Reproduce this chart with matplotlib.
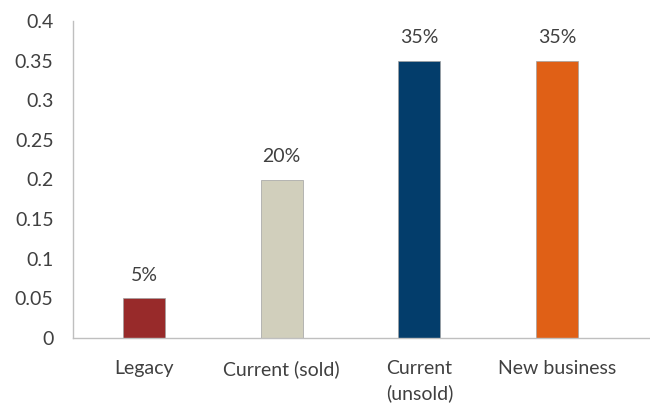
import matplotlib.pyplot as plt

categories = ['Legacy', 'Current (sold)', 'Current\n(unsold)', 'New business']
values = [0.05, 0.20, 0.35, 0.35]
labels = ['5%', '20%', '35%', '35%']
colors = ['#982A2A', '#D1CFBC', '#033D6B', '#E06016']

plt.rcParams['font.family'] = ['Lato', 'DejaVu Sans']
text_color = '#404040'

fig = plt.figure(figsize=(6.5, 4.05), dpi=100)
ax = fig.add_axes([73 / 650, 1 - 338 / 405, 1 - 73 / 650, (338 - 21) / 405])

x = range(len(categories))
bars = ax.bar(x, values, width=0.305, color=colors, edgecolor='#A0A0A0', linewidth=0.5)
for b, lab in zip(bars, labels):
    ax.text(b.get_x() + b.get_width() / 2, b.get_height() + 0.018, lab,
            ha='center', va='bottom', fontsize=14, color=text_color)

ax.set_xlim(-0.516, 3.675)
ax.set_ylim(0, 0.4)
ax.set_yticks([i * 0.05 for i in range(9)])
ax.set_yticklabels(['0', '0.05', '0.1', '0.15', '0.2', '0.25', '0.3', '0.35', '0.4'])
ax.set_xticks(list(x))
ax.set_xticklabels(categories, linespacing=1.45)

for s in ['top', 'right']:
    ax.spines[s].set_visible(False)
for s in ['left', 'bottom']:
    ax.spines[s].set_color('#BFBFBF')
    ax.spines[s].set_linewidth(1)
ax.tick_params(axis='both', length=0, labelsize=14, colors=text_color)
ax.tick_params(axis='y', pad=14)
ax.tick_params(axis='x', pad=16)

fig.savefig('out.png')
